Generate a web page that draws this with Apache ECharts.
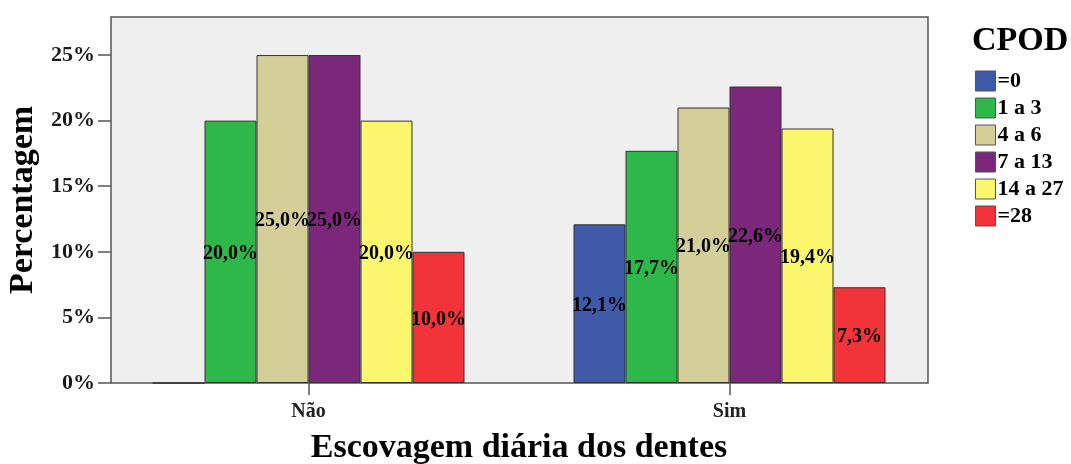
<!DOCTYPE html>
<html>
<head>
<meta charset="utf-8">
<script src="https://cdn.jsdelivr.net/npm/echarts@6/dist/echarts.min.js"></script>
<style>html,body{margin:0;padding:0;background:#fff}#c{width:1071px;height:464px}</style>
</head>
<body>
<div id="c"></div>
<script>
var categories = ['Não', 'Sim'];
var seriesNames = ['=0', '1 a 3', '4 a 6', '7 a 13', '14 a 27', '=28'];
var v0 = [0, 12.1];
var v1 = [20.0, 17.7];
var v2 = [25.0, 21.0];
var v3 = [25.0, 22.6];
var v4 = [20.0, 19.4];
var v5 = [10.0, 7.3];
var yTicks = ['0%', '5%', '10%', '15%', '20%', '25%'];

var values = [v0, v1, v2, v3, v4, v5];
var colors = ['#3f5aa9', '#2fb84a', '#d4cf98', '#7b287b', '#faf76e', '#f23339'];
var FONT = '"Liberation Serif", "Times New Roman", serif';

var chart = echarts.init(document.getElementById('c'));
chart.setOption({
  animation: false,
  backgroundColor: '#ffffff',
  title: {
    text: 'CPOD', left: 972, top: 24, padding: 0,
    textStyle: { fontFamily: FONT, fontWeight: 'bold', fontSize: 34, color: '#000' }
  },
  legend: {
    orient: 'vertical', left: 975, top: 70, padding: 0,
    itemWidth: 20, itemHeight: 20, itemGap: 5,
    icon: 'rect',
    itemStyle: { borderColor: '#555', borderWidth: 1 },
    textStyle: { fontFamily: FONT, fontWeight: 'bold', fontSize: 22, color: '#000', padding: [0, 0, 0, -3] },
    data: seriesNames
  },
  graphic: [{
    type: 'rect', z: -10, silent: true,
    shape: { x: 111, y: 17, width: 817, height: 366 },
    style: { fill: '#efefef', stroke: '#555', lineWidth: 1.5 }
  }],
  grid: { left: 98, right: 131, top: 17, bottom: 81, containLabel: false, outerBoundsMode: 'none' },
  xAxis: {
    type: 'category', data: categories,
    axisLine: { show: false },
    axisTick: { show: true, alignWithLabel: true, length: 12, lineStyle: { color: '#555', width: 1.5 } },
    axisLabel: { margin: 19, fontFamily: FONT, fontWeight: 'bold', fontSize: 20, color: '#222' },
    name: 'Escovagem diária dos dentes', nameLocation: 'middle', nameGap: 48,
    nameTextStyle: { fontFamily: FONT, fontWeight: 'bold', fontSize: 34, color: '#000' }
  },
  yAxis: {
    type: 'value', min: 0, max: 27.9, interval: 5,
    axisLine: { show: false },
    splitLine: { show: false },
    axisTick: { show: true, inside: true, length: 13, lineStyle: { color: '#555', width: 1.5 } },
    axisLabel: {
      margin: 3, showMaxLabel: false, fontFamily: FONT, fontWeight: 'bold', fontSize: 22, color: '#1a1a1a',
      padding: [6, 0, 0, 0],
      formatter: function (v) { var i = Math.round(v / 5); return (Math.abs(v - i * 5) < 1e-6 && yTicks[i]) ? yTicks[i] : ''; }
    },
    name: 'Percentagem', nameLocation: 'middle', nameRotate: 90, nameGap: 50,
    nameTextStyle: { fontFamily: FONT, fontWeight: 'bold', fontSize: 34, color: '#000' }
  },
  series: seriesNames.map(function (n, i) {
    return {
      name: n, type: 'bar', data: values[i],
      barWidth: 52, barGap: '0%',
      itemStyle: { color: colors[i], borderColor: '#333', borderWidth: 1 },
      label: {
        show: true, position: 'inside', offset: [0, 2], color: '#000',
        fontFamily: FONT, fontWeight: 'bold', fontSize: 20,
        formatter: function (p) { return p.value ? p.value.toFixed(1).replace('.', ',') + '%' : ''; }
      }
    };
  })
});
</script>
</body>
</html>
